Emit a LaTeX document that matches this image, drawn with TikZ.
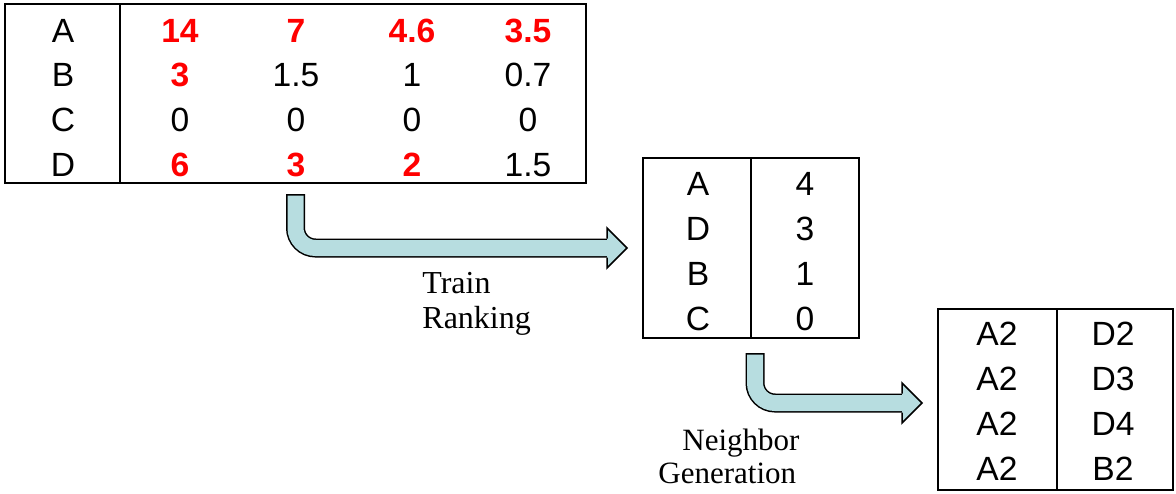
\documentclass[tikz,border=0pt]{standalone}
\usepackage{fontspec}
\setmainfont{Liberation Serif}
\setsansfont{Liberation Sans}

\definecolor{arrowcyan}{RGB}{183,221,224}
\definecolor{hotred}{RGB}{255,0,0}

% bent block arrow: start point, back of the head
\newcommand{\bentarrow}[2]{%
	\draw [line width = 9.5pt, rounded corners = 10pt] (#1) |- (#2);
	\draw [line width = 8pt, arrowcyan, rounded corners = 10pt] ([yshift = -0.75pt] #1) |- (#2);
	\fill [arrowcyan] ([yshift = 10pt] #2) -- ([xshift = 10pt] #2) -- ([yshift = -10pt] #2) -- cycle;
	\draw [line width = 0.75pt] ([yshift = 4.75pt] #2) -- ([yshift = 10pt] #2) -- ([xshift = 10pt] #2) -- ([yshift = -10pt] #2) -- ([yshift = -4.75pt] #2);
}

\begin{document}
\begin{tikzpicture}[x = 0.5pt, y = -0.5pt,
	tablebox/.style = {draw, line width = 1pt, inner sep = 0pt},
	cold/.style = {anchor = base, inner sep = 0pt, font = \sffamily\fontsize{16.8}{19}\selectfont},
	hot/.style = {cold, text = hotred, font = \sffamily\bfseries\fontsize{16.8}{19}\selectfont},
	stagetext/.style = {anchor = base west, align = left, inner sep = 0pt}]

	\useasboundingbox (0, 0) rectangle (1176, 493);

	% Score table
	
	\node [tablebox, minimum width = 290.5pt, minimum height = 89.5pt] (tab1) at (295.5, 93.5) {};
	\draw [line width = 1pt] ([xshift = 58pt] tab1.north west) -- ([xshift = 58pt] tab1.south west);
	
	\foreach \key [count = \r] in {A, B, C, D}
		\node [cold] (t1-\r-0) at (63, {42 + 44.7*(\r-1)}) {\key};
	
	\foreach \r/\c/\val/\sty in {1/1/14/hot, 1/2/7/hot, 1/3/4.6/hot, 1/4/3.5/hot,
			2/1/3/hot, 2/2/1.5/cold, 2/3/1/cold, 2/4/0.7/cold,
			3/1/0/cold, 3/2/0/cold, 3/3/0/cold, 3/4/0/cold,
			4/1/6/hot, 4/2/3/hot, 4/3/2/hot, 4/4/1.5/cold}
		\node [\sty] (t1-\r-\c) at ({180 + 116*(\c-1)}, {42 + 44.7*(\r-1)}) {\val};
	
	% Ranking table
	
	\node [tablebox, minimum width = 108pt, minimum height = 90pt] (tab2) at (751, 248) {};
	\draw [line width = 1pt] ([xshift = 54.5pt] tab2.north west) -- ([xshift = 54.5pt] tab2.south west);
	
	\foreach \key/\val [count = \r] in {A/4, D/3, B/1, C/0} {
		\node [cold] (t2-\r-1) at (698, {195 + 45*(\r-1)}) {\key};
		\node [cold] (t2-\r-2) at (805, {195 + 45*(\r-1)}) {\val};
	}
	
	% Neighbor table
	
	\node [tablebox, minimum width = 117.5pt, minimum height = 90.5pt] (tab3) at (1055.5, 399.5) {};
	\draw [line width = 1pt] ([xshift = 60pt] tab3.north west) -- ([xshift = 60pt] tab3.south west);
	
	\foreach \src/\dst [count = \r] in {A2/D2, A2/D3, A2/D4, A2/B2} {
		\node [cold] (t3-\r-1) at (997, {345 + 45*(\r-1)}) {\src};
		\node [cold] (t3-\r-2) at (1113, {345 + 45*(\r-1)}) {\dst};
	}
	
	% Block arrows
	
	\coordinate (a1s) at ([yshift = -5pt] tab1.south);
	\coordinate (a1h) at ([xshift = -17.5pt] tab2.west);
	\bentarrow{a1s}{a1h}
	
	\coordinate (a2s) at ([xshift = 2pt, yshift = -7pt] tab2.south);
	\coordinate (a2h) at ([xshift = -17.5pt, yshift = -1.75pt] tab3.west);
	\bentarrow{a2s}{a2h}
	
	% Stage names
	
	\node [stagetext, font = \fontsize{16}{17.5}\selectfont] (train) at (422, 328) {Train\\Ranking};
	\node [stagetext, font = \fontsize{15.5}{16.5}\selectfont] (gen) at (658, 483) {\hspace*{12pt}Neighbor\\Generation};

\end{tikzpicture}
\end{document}
